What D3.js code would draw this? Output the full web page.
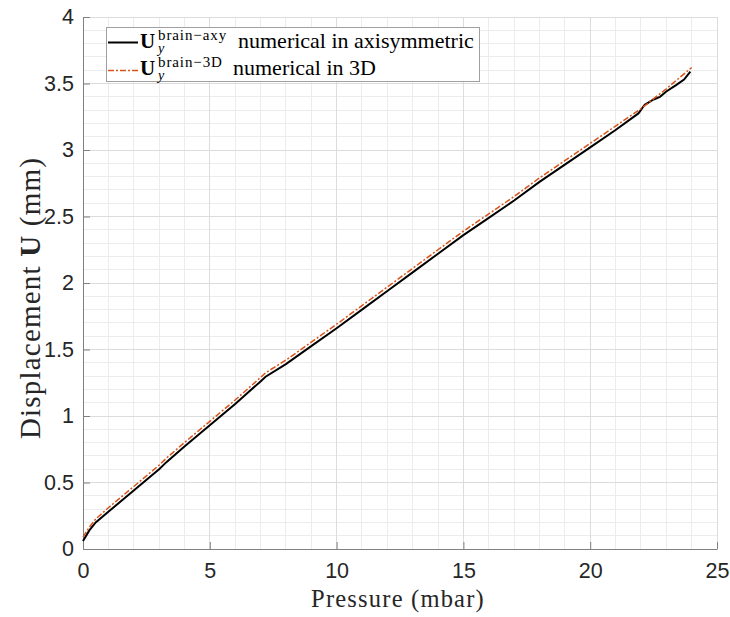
<!DOCTYPE html>
<html><head><meta charset="utf-8">
<script src="https://cdn.jsdelivr.net/npm/d3@7"></script>
<style>body{margin:0;background:#fff}svg{display:block}</style>
</head><body>
<script>
const xTicks = [0,5,10,15,20,25];
const yTicks = [0,0.5,1,1.5,2,2.5,3,3.5,4];
const yTickLabels = ["0","0.5","1","1.5","2","2.5","3","3.5","4"];

const pressureAxy = [0,0.25,0.5,1,2,3,3.3,4,5,6,7,7.2,8,9,10,11,12,13,14,15,16,17,18,19,20,21,21.9,22.15,22.5,22.75,23,23.4,23.7,23.95];
const dispAxy     = [0.06,0.14,0.2,0.28,0.44,0.6,0.655,0.77,0.93,1.09,1.26,1.295,1.39,1.525,1.66,1.80,1.94,2.08,2.22,2.36,2.49,2.62,2.76,2.89,3.02,3.15,3.275,3.34,3.38,3.40,3.44,3.49,3.53,3.59];

const pressure3D = [0,0.25,0.5,1,2,3,3.3,4,5,6,7,7.2,8,9,10,11,12,13,14,15,16,17,18,19,20,21,22,23,24];
const disp3D     = [0.09,0.165,0.225,0.31,0.47,0.63,0.685,0.80,0.96,1.12,1.29,1.325,1.42,1.555,1.69,1.83,1.97,2.11,2.25,2.39,2.52,2.65,2.79,2.92,3.05,3.18,3.31,3.46,3.62];

const W = 730, H = 617;
const x0 = 83, x1 = 717, yTop = 17, yBot = 549;
const svg = d3.select("body").append("svg").attr("width", W).attr("height", H);
const x = d3.scaleLinear().domain([0,25]).range([x0,x1]);
const y = d3.scaleLinear().domain([0,4]).range([yBot,yTop]);

// minor grid
const g = svg.append("g");
g.selectAll(".mx").data(d3.range(0,26,1)).join("line")
  .attr("x1",d=>x(d)).attr("x2",d=>x(d)).attr("y1",yTop).attr("y2",yBot)
  .attr("stroke","#ececec").attr("stroke-width",1).attr("shape-rendering","crispEdges");
g.selectAll(".my").data(d3.range(0,41,1).map(i=>i/10)).join("line")
  .attr("y1",d=>y(d)).attr("y2",d=>y(d)).attr("x1",x0).attr("x2",x1)
  .attr("stroke","#ececec").attr("stroke-width",1).attr("shape-rendering","crispEdges");
// major grid
g.append("g").selectAll("line").data(xTicks).join("line")
  .attr("x1",d=>x(d)).attr("x2",d=>x(d)).attr("y1",yTop).attr("y2",yBot)
  .attr("stroke","#dcdcdc").attr("stroke-width",1).attr("shape-rendering","crispEdges");
g.append("g").selectAll("line").data(yTicks).join("line")
  .attr("y1",d=>y(d)).attr("y2",d=>y(d)).attr("x1",x0).attr("x2",x1)
  .attr("stroke","#dcdcdc").attr("stroke-width",1).attr("shape-rendering","crispEdges");

// axes
const xAxis = d3.axisBottom(x).tickValues(xTicks).tickSizeInner(-7).tickSizeOuter(0).tickPadding(14);
const yAxis = d3.axisLeft(y).tickValues(yTicks).tickFormat((d,i)=>yTickLabels[i]).tickSizeInner(-7).tickSizeOuter(0).tickPadding(9);
const gx = svg.append("g").attr("transform",`translate(0,${yBot})`).call(xAxis);
const gy = svg.append("g").attr("transform",`translate(${x0},0)`).call(yAxis);
[gx,gy].forEach(a=>{
  a.select(".domain").attr("stroke","#808080");
  a.selectAll(".tick line").attr("stroke","#808080");
  a.selectAll(".tick text").attr("font-family","Liberation Sans, Arial, sans-serif").attr("font-size",21.5).attr("fill","#262626");
});
gx.selectAll(".tick text").attr("dy","0.71em");

// lines
const line = d3.line().x(d=>x(d[0])).y(d=>y(d[1]));
svg.append("path").datum(pressureAxy.map((p,i)=>[p,dispAxy[i]]))
  .attr("d",line).attr("fill","none").attr("stroke","#000").attr("stroke-width",2);
svg.append("path").datum(pressure3D.map((p,i)=>[p,disp3D[i]]))
  .attr("d",line).attr("fill","none").attr("stroke","#D95319").attr("stroke-width",1.5)
  .attr("stroke-dasharray","6,2,2,2");

// axis labels
const serif = "Liberation Serif, serif";
svg.append("text").attr("x",398).attr("y",607).attr("text-anchor","middle")
  .attr("font-family",serif).attr("font-size",24.5).attr("letter-spacing",1.2).attr("fill","#262626")
  .text("Pressure (mbar)");
const yl = svg.append("text").attr("transform","translate(40,298) rotate(-90)").attr("text-anchor","middle")
  .attr("font-family",serif).attr("font-size",29).attr("letter-spacing",1.2).attr("fill","#262626");
yl.append("tspan").text("Displacement ");
yl.append("tspan").attr("font-weight","bold").text("U");
yl.append("tspan").text(" (mm)");

// legend
const lg = svg.append("g");
lg.append("rect").attr("x",106.5).attr("y",27.5).attr("width",373).attr("height",54)
  .attr("fill","#fff").attr("stroke","#a0a0a0").attr("stroke-width",1);
const rows = [
  {sup:"brain\u2212axy", txt:"numerical in axisymmetric", tx:238, base:48, ly:42.5, color:"#000", dash:null, w:2},
  {sup:"brain\u22123D", txt:"numerical in 3D", tx:233, base:75, ly:70.5, color:"#D95319", dash:"6,2,2,2", w:1.5}
];
rows.forEach(r=>{
  lg.append("line").attr("x1",108).attr("x2",138).attr("y1",r.ly).attr("y2",r.ly)
    .attr("stroke",r.color).attr("stroke-width",r.w).attr("stroke-dasharray",r.dash);
  lg.append("text").attr("x",140).attr("y",r.base).attr("font-family",serif).attr("font-size",21)
    .attr("font-weight","bold").attr("fill","#000").text("U");
  lg.append("text").attr("x",158).attr("y",r.base-8.5).attr("font-family",serif).attr("font-size",15)
    .attr("letter-spacing",0.9).attr("fill","#000").text(r.sup);
  lg.append("text").attr("x",158).attr("y",r.base+5).attr("font-family",serif).attr("font-size",14)
    .attr("font-style","italic").attr("fill","#000").text("y");
  lg.append("text").attr("x",r.tx).attr("y",r.base).attr("font-family",serif).attr("font-size",22)
    .attr("fill","#000").text(r.txt);
});
</script>
</body></html>
